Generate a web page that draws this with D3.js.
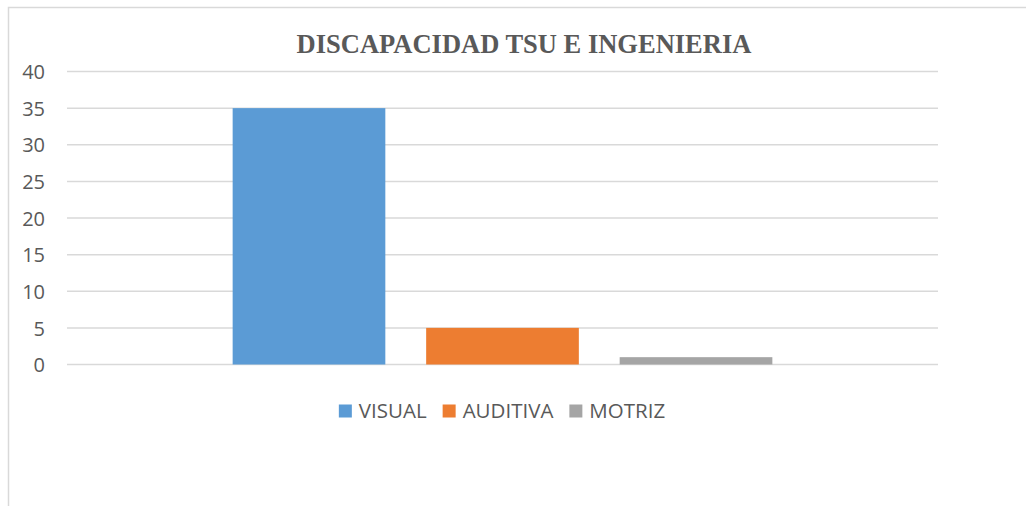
<!DOCTYPE html>
<html>
<head>
<meta charset="utf-8">
<script src="https://cdnjs.cloudflare.com/ajax/libs/d3/7.8.5/d3.min.js"></script>
<style>
  body { margin: 0; background: #fff; }
  svg { display: block; }
</style>
</head>
<body>
<div id="chart"></div>
<script>
// data
var title = 'DISCAPACIDAD TSU E INGENIERIA';
var series = ['VISUAL', 'AUDITIVA', 'MOTRIZ'];
var values = [35, 5, 1];
var colors = ['#5b9bd5', '#ed7d31', '#a5a5a5'];
var ticks = [0, 5, 10, 15, 20, 25, 30, 35, 40];

var width = 1026, height = 506;
var margin = {top: 71.5, left: 67, right: 88, bottom: 141.5};

var svg = d3.select('#chart')
    .append('svg')
    .attr('width', width)
    .attr('height', height);

// chart frame
svg.append('rect')
    .attr('x', 8.5)
    .attr('y', 7.5)
    .attr('width', 1040)
    .attr('height', 520)
    .attr('fill', '#fff')
    .attr('stroke', '#d9d9d9')
    .attr('stroke-width', 1.5);

var x = d3.scaleBand()
    .domain(series)
    .range([margin.left, width - margin.right])
    .paddingInner(0.211)
    .paddingOuter(0.856);

var y = d3.scaleLinear()
    .domain([0, 40])
    .range([height - margin.bottom, margin.top]);

// grid lines
svg.append('g')
    .attr('class', 'grid-lines')
    .selectAll('line')
    .data(ticks)
    .enter()
    .append('line')
    .attr('x1', margin.left)
    .attr('x2', width - margin.right)
    .attr('y1', function(d) { return y(d) })
    .attr('y2', function(d) { return y(d) })
    .attr('stroke', '#d9d9d9')
    .attr('stroke-width', 1.5);

// y axis labels
svg.append('g')
    .attr('transform', 'translate(45,0)')
    .call(d3.axisLeft(y).tickValues(ticks).tickSize(0).tickPadding(0))
    .call(function(g) { g.select('.domain').remove() })
    .selectAll('.tick text')
    .attr('font-family', 'Open Sans, sans-serif')
    .attr('font-size', 20)
    .attr('fill', '#595959')
    .attr('dy', '0.36em');

// bars
svg.selectAll('rect.bar')
    .data(values)
    .enter()
    .append('rect')
    .attr('class', 'bar')
    .attr('x', function(d, i) { return x(series[i]) })
    .attr('y', function(d) { return y(d) })
    .attr('width', x.bandwidth())
    .attr('height', function(d) { return y(0) - y(d) })
    .attr('fill', function(d, i) { return colors[i] });

// title
svg.append('text')
    .attr('x', 524)
    .attr('y', 53)
    .attr('text-anchor', 'middle')
    .attr('font-family', 'Liberation Serif, Times New Roman, serif')
    .attr('font-weight', 'bold')
    .attr('font-size', 26.5)
    .attr('fill', '#595959')
    .text(title);

// legend
var legend = svg.append('g');
var items = legend.selectAll('g')
    .data(series)
    .enter()
    .append('g');

items.append('rect')
    .attr('width', 13)
    .attr('height', 13)
    .attr('y', -6.5)
    .attr('fill', function(d, i) { return colors[i] });

items.append('text')
    .attr('x', 20)
    .attr('dy', '0.36em')
    .attr('font-family', 'Open Sans, sans-serif')
    .attr('font-size', 20.5)
    .attr('fill', '#595959')
    .text(function(d) { return d });

var offset = 0;
var positions = [];
items.each(function() {
    positions.push(offset);
    offset += 20 + d3.select(this).select('text').node().getComputedTextLength() + 16;
});
offset -= 16;
items.attr('transform', function(d, i) { return 'translate(' + positions[i] + ',0)' });
legend.attr('transform', 'translate(' + (502 - offset / 2) + ',411)');
</script>
</body>
</html>
